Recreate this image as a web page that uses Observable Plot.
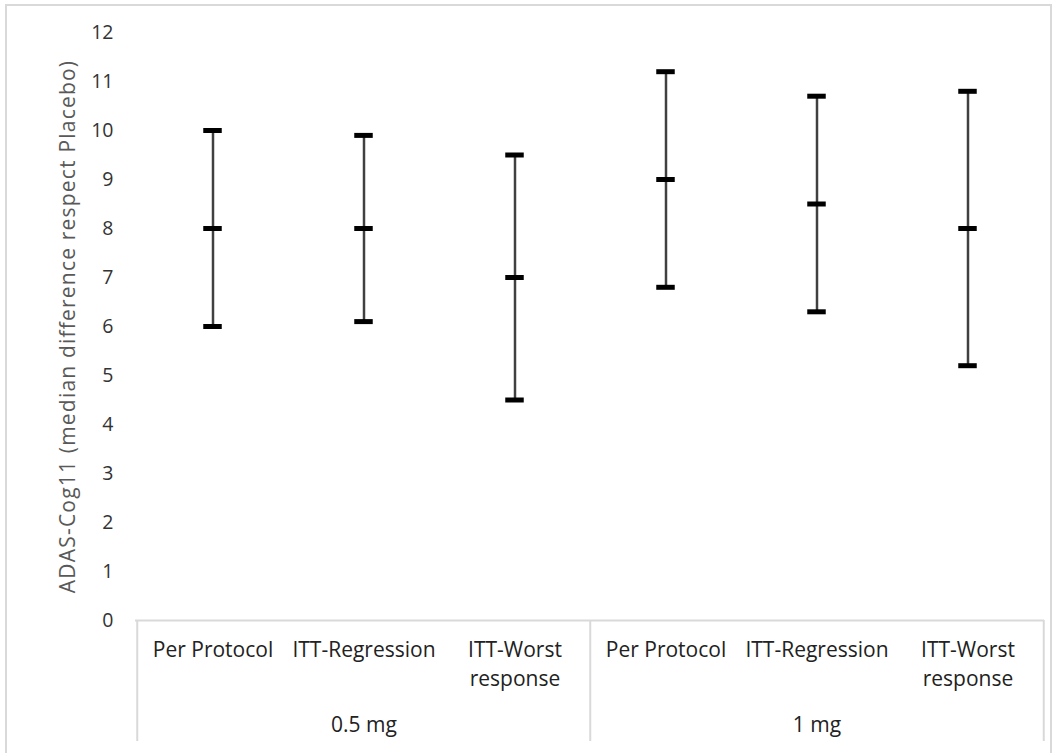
<!DOCTYPE html>
<html>
<head>
<meta charset="utf-8">
<script src="https://cdn.jsdelivr.net/npm/d3@7"></script>
<script src="https://cdn.jsdelivr.net/npm/@observablehq/plot@0.6"></script>
<style>
  html, body { margin: 0; padding: 0; background: #fff; overflow: hidden; }
  #wrap { position: relative; width: 1055px; height: 753px; }
  #border { position: absolute; left: 5px; top: 4px; width: 1047px; height: 800px; border: 2px solid #d9d9d9; box-sizing: border-box; pointer-events: none; }
  #chart { position: absolute; left: 0; top: 0; }
</style>
</head>
<body>
<div id="wrap"><div id="border"></div><div id="chart"></div></div>
<script>
// ---- data ----
const groups  = ["0.5 mg", "0.5 mg", "0.5 mg", "1 mg", "1 mg", "1 mg"];
const methods = ["Per Protocol", "ITT-Regression", "ITT-Worst\nresponse", "Per Protocol", "ITT-Regression", "ITT-Worst\nresponse"];
const lows    = [6.0, 6.1, 4.5, 6.8, 6.3, 5.2];
const medians = [8.0, 8.0, 7.0, 9.0, 8.5, 8.0];
const highs   = [10.0, 9.9, 9.5, 11.2, 10.7, 10.8];
const yTicks  = [0, 1, 2, 3, 4, 5, 6, 7, 8, 9, 10, 11, 12];
const groupNames = ["0.5 mg", "1 mg"];
const yLabel = "ADAS-Cog11 (median difference respect Placebo)";

const data = groups.map((g, i) => ({
  key: g + "|" + methods[i], group: g, method: methods[i],
  low: lows[i], mid: medians[i], high: highs[i]
}));
const keys = data.map(d => d.key);
const groupCenters = groupNames.map(g => { const k = keys.filter(x => x.startsWith(g + "|")); return k[Math.floor(k.length / 2)]; });
const groupStarts = groupNames.map(g => keys.find(x => x.startsWith(g + "|")));

// ---- layout ----
const W = 1055, H = 753, mL = 135, mR = 11, mT = 32, mB = 133;
const bw = (W - mL - mR) / keys.length;
const capW = 19;
const capInset = (bw - capW) / 2;
const font = "'Open Sans', sans-serif";

const capStyle = {x: "key", stroke: "#000", strokeWidth: 5, insetLeft: capInset, insetRight: capInset};

const chart = Plot.plot({
  width: W, height: H,
  marginLeft: mL, marginRight: mR, marginTop: mT, marginBottom: mB,
  style: {fontFamily: font, fontSize: "19px", background: "transparent", overflow: "visible"},
  x: {type: "band", domain: keys, padding: 0, axis: null},
  y: {domain: [0, 12], axis: null},
  marks: [
    Plot.text(yTicks, {frameAnchor: "left", y: d => d, text: d => String(d), textAnchor: "end", dx: -22, fill: "#333", fontSize: 19.5}),
    Plot.text([yLabel], {frameAnchor: "left", rotate: -90, textAnchor: "middle", dx: -67, fill: "#595959", fontSize: 21}),
    Plot.ruleY([0], {stroke: "#d9d9d9", strokeWidth: 2}),
    Plot.ruleX(groupStarts, {x: d => d, dx: -bw / 2, y1: 0, y2: 0, insetBottom: -121, stroke: "#d9d9d9", strokeWidth: 2}),
    Plot.ruleX([keys[keys.length - 1]], {x: d => d, dx: bw / 2, y1: 0, y2: 0, insetBottom: -121, stroke: "#d9d9d9", strokeWidth: 2}),
    Plot.ruleX(data, {x: "key", y1: "low", y2: "high", stroke: "#404040", strokeWidth: 2.5}),
    Plot.tickY(data, {...capStyle, y: "low"}),
    Plot.tickY(data, {...capStyle, y: "mid"}),
    Plot.tickY(data, {...capStyle, y: "high"}),
    Plot.text(data, {x: "key", frameAnchor: "bottom", text: "method", lineAnchor: "top", dy: 15, lineHeight: 1.42, fill: "#222", fontSize: 21}),
    Plot.text(groupNames, {x: (d, i) => groupCenters[i], frameAnchor: "bottom", text: d => d, lineAnchor: "middle", dy: 105, fill: "#222", fontSize: 21})
  ]
});
d3.select(chart).selectAll("text")
  .filter(function() { return this.textContent === yLabel; })
  .style("letter-spacing", "1.2px");
document.getElementById("chart").appendChild(chart);
</script>
</body>
</html>
